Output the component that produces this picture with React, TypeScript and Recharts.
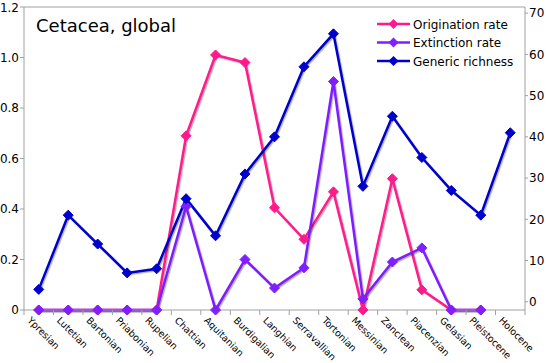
import React from 'react';
import { LineChart, Line, XAxis, YAxis, ReferenceLine } from 'recharts';

const categories = ['Ypresian','Lutetian','Bartonian','Priabonian','Rupelian','Chattian','Aquitanian','Burdigalian','Langhian','Serravallian','Tortonian','Messinian','Zanclean','Piacenzian','Gelasian','Pleistocene','Holocene'];
const origination = [0,0,0,0,0,0.69,1.01,0.98,0.405,0.28,0.468,0,0.52,0.08,0,0,null];
const extinction = [0,0,0,0,0,0.41,0,0.2,0.087,0.167,0.905,0.044,0.19,0.246,0,0,null];
const richness = [3,21,14,7,8,25,16,31,40,57,65,28,45,35,27,21,41];
const leftTicks = [0,0.2,0.4,0.6,0.8,1.0,1.2];
const rightTicks = [0,10,20,30,40,50,60,70];
const seriesLabels = ['Origination rate', 'Extinction rate', 'Generic richness'];

const PINK = '#FF1A8C';
const PURPLE = '#7F1FFF';
const BLUE = '#0000CC';
const AXIS = '#A0A0A0';
const FONT = '"DejaVu Sans", Verdana, sans-serif';
const seriesColors = [PINK, PURPLE, BLUE];

const data = categories.map((c, i) => ({
  name: c,
  origination: origination[i],
  extinction: extinction[i],
  richness: richness[i],
}));

const makeDot = (color: string) => (p: any) => {
  const { cx, cy, index, value } = p;
  if (cx == null || cy == null || value == null) return <g key={`d${index}`} />;
  const r = 5;
  return <path key={`d${index}`} d={`M${cx},${cy - r}L${cx + r},${cy}L${cx},${cy + r}L${cx - r},${cy}Z`} fill={color} stroke={color} strokeWidth={1} />;
};

const XTick = (props: any) => {
  const { x, y, payload, index, visibleTicksCount } = props;
  const off = payload?.offset ?? 0;
  return (
    <g>
      <line x1={x - off} x2={x - off} y1={y} y2={y + 5} stroke={AXIS} />
      {index === visibleTicksCount - 1 ? <line x1={x + off} x2={x + off} y1={y} y2={y + 5} stroke={AXIS} /> : null}
      <text transform={`translate(${x - 12},${y + 11}) rotate(45)`} textAnchor="start" fontSize={9.5} fontFamily={FONT} fill="#000">
        {payload.value}
      </text>
    </g>
  );
};

export default function App() {
  return (
    <div style={{ position: 'absolute', left: 0, top: 0, width: 546, height: 363, background: '#fff' }}>
      <style>{`.recharts-line-curve{filter:url(#shd);}`}</style>
      <svg width={0} height={0} style={{ position: 'absolute' }}>
        <defs>
          <filter id="shd" x="-10%" y="-10%" width="120%" height="120%">
            <feDropShadow dx="1.2" dy="1.2" stdDeviation="0.6" floodColor="#000" floodOpacity="0.3" />
          </filter>
        </defs>
      </svg>
      <LineChart width={546} height={363} data={data} margin={{ top: 7, right: 0, bottom: 0, left: 0 }}>
        <XAxis dataKey="name" scale="band" height={53} interval={0} tickSize={0} tickMargin={0} tickLine={false} stroke={AXIS} tick={<XTick />} />
        <YAxis yAxisId="left" orientation="left" width={24} domain={[0, 1.2]} ticks={leftTicks} stroke={AXIS}
          tickSize={4} tickMargin={1} tickFormatter={(v: number) => (v === 0 ? '0' : v.toFixed(1))}
          tick={{ fill: '#000', fontSize: 12, fontFamily: FONT }} />
        <YAxis yAxisId="right" orientation="right" width={21} domain={[-2, 71.5]} ticks={rightTicks} stroke={AXIS}
          tickSize={3} tickMargin={1} tick={{ fill: '#000', fontSize: 12, fontFamily: FONT, textAnchor: 'start' }} />
        <ReferenceLine yAxisId="left" y={1.2} stroke={AXIS} />
        <Line yAxisId="left" dataKey="origination" name={seriesLabels[0]} stroke={PINK} strokeWidth={2.5} dot={makeDot(PINK)} activeDot={false} isAnimationActive={false} />
        <Line yAxisId="left" dataKey="extinction" name={seriesLabels[1]} stroke={PURPLE} strokeWidth={2.5} dot={makeDot(PURPLE)} activeDot={false} isAnimationActive={false} />
        <Line yAxisId="right" dataKey="richness" name={seriesLabels[2]} stroke={BLUE} strokeWidth={2.5} dot={makeDot(BLUE)} activeDot={false} isAnimationActive={false} />
      </LineChart>
      <svg width={546} height={363} style={{ position: 'absolute', left: 0, top: 0, pointerEvents: 'none' }}>
        <text x={36} y={32} fontSize={18} fontFamily={FONT} fill="#000">Cetacea, global</text>
        {seriesLabels.map((label, i) => {
          const cy = 24 + i * 18.5;
          const color = seriesColors[i];
          return (
            <g key={label}>
              <line x1={377} x2={410} y1={cy} y2={cy} stroke={color} strokeWidth={2.5} />
              <path d={`M393.5,${cy - 5}L398.5,${cy}L393.5,${cy + 5}L388.5,${cy}Z`} fill={color} />
              <text x={413} y={cy + 4.5} fontSize={12} fontFamily={FONT} fill="#000">{label}</text>
            </g>
          );
        })}
      </svg>
    </div>
  );
}
